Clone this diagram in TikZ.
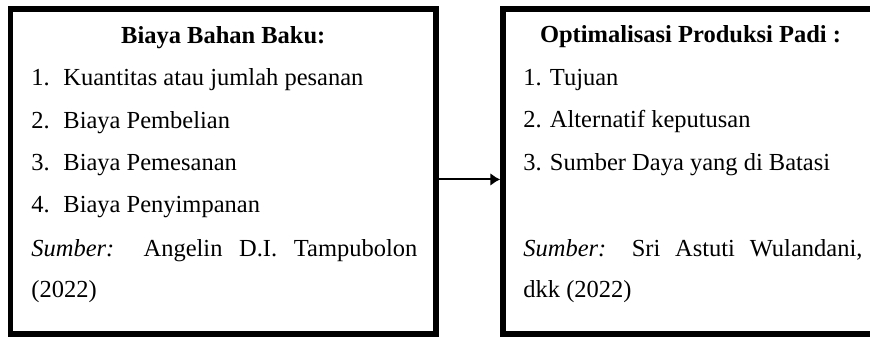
\documentclass[tikz,border=0pt]{standalone}
\usepackage{fontspec}
\setmainfont{Liberation Serif}
\usepackage{tikz}
\usetikzlibrary{arrows.meta}

\begin{document}
\begin{tikzpicture}[x=0.49pt,y=0.49pt]

        \edef\tebalkotak{2.7pt}
        \tikzstyle{kotak}=[draw,line width=\tebalkotak,inner sep=0pt]
        \tikzstyle{teks}=[inner sep=0pt,anchor=base west,font=\fontsize{12pt}{14pt}\selectfont]
        \tikzstyle{judul}=[inner sep=0pt,anchor=base,font=\fontsize{12pt}{14pt}\selectfont\bfseries]
        \tikzstyle{panah}=[line width=1pt,-{Latex[length=4.9pt,width=6.4pt]}]

        \useasboundingbox (0,0) rectangle (870,337);
        \clip (0,0) rectangle (870,337);

        %% Kotak biaya bahan baku
        \node [kotak,minimum width=208.5pt,minimum height=159.3pt] (bahan) at (223.25,165.5) {};
        \node [judul] (judulbahan) at (223.25,293) {Biaya Bahan Baku:};
        \node [teks] (bahan1) at (31,251) {\makebox[15.7pt][l]{1.}Kuantitas atau jumlah pesanan};
        \node [teks] (bahan2) at (31,208) {\makebox[15.7pt][l]{2.}Biaya Pembelian};
        \node [teks] (bahan3) at (31,166) {\makebox[15.7pt][l]{3.}Biaya Pemesanan};
        \node [teks] (bahan4) at (31,124) {\makebox[15.7pt][l]{4.}Biaya Penyimpanan};
        \node [teks] (sumberbahan) at (31,80) {\makebox[189.1pt][s]{\textit{Sumber:} Angelin D.I. Tampubolon}};
        \node [teks] (tahunbahan) at (31,39) {(2022)};

        %% Kotak optimalisasi produksi padi
        \node [kotak,minimum width=194.5pt,minimum height=159.3pt] (optimasi) at (701.5,165.5) {};
        \node [judul] (judulpadi) at (690.5,294) {Optimalisasi Produksi Padi :};
        \node [teks] (padi1) at (523,251) {1. Tujuan};
        \node [teks] (padi2) at (523,209) {2. Alternatif keputusan};
        \node [teks] (padi3) at (523,166) {3. Sumber Daya yang di Batasi};
        % baris kosong
        \node [teks] (sumberpadi) at (523,80) {\makebox[166.1pt][s]{\textit{Sumber:} Sri Astuti Wulandani,}};
        \node [teks] (tahunpadi) at (523,39) {dkk (2022)};

        \draw [panah] ([yshift=-3.9pt]bahan.east) -- ([yshift=-3.9pt]optimasi.west);

\end{tikzpicture}
\end{document}
